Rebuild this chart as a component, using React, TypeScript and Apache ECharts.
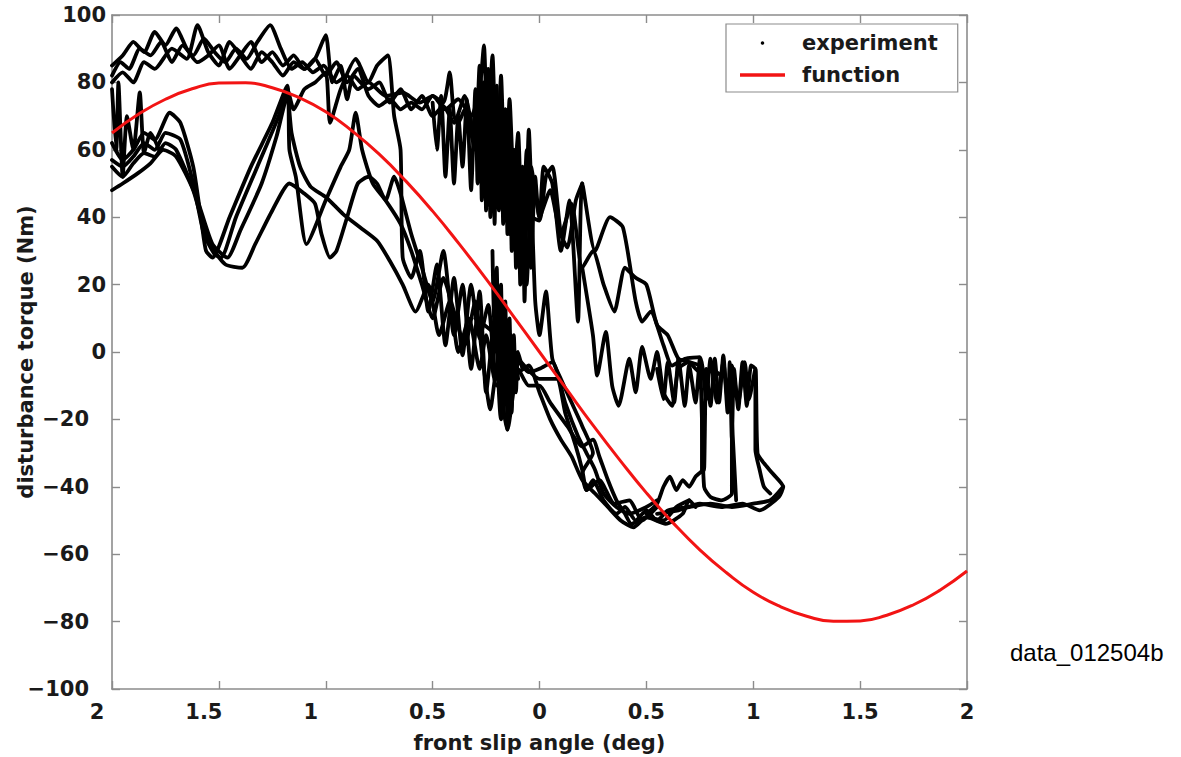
import { useEffect, useRef } from 'react';
import * as echarts from 'echarts';

const xTickLabels = ['2', '1.5', '1', '0.5', '0', '0.5', '1', '1.5', '2'];
const yTickLabels = ['−100', '−80', '−60', '−40', '−20', '0', '20', '40', '60', '80', '100'];

const functionX = [-2, -1.875, -1.75, -1.625, -1.5, -1.375, -1.25, -1.125, -1, -0.875, -0.75, -0.625, -0.5, -0.375, -0.25, -0.125, 0,
  0.125, 0.25, 0.375, 0.5, 0.625, 0.75, 0.875, 1, 1.125, 1.25, 1.375, 1.5, 1.625, 1.75, 1.875, 2];
const functionY = [65, 70.6, 75, 78.1, 79.8, 79.9, 78.4, 75.5, 71.3, 65.5, 58.7, 50.7, 41.8, 32, 21.7, 10.9, 0,
  -10.9, -21.7, -32, -41.8, -50.7, -58.7, -65.5, -71.3, -75.5, -78.4, -79.9, -79.8, -78.1, -75, -70.6, -65];

type P = [number, number];

const trace1: P[] = [[-2, 82], [-1.96, 86], [-1.92, 84], [-1.87, 90], [-1.82, 88], [-1.77, 92], [-1.72, 86], [-1.67, 91], [-1.62, 88], [-1.57, 93], [-1.52, 89], [-1.47, 86], [-1.42, 90], [-1.37, 87], [-1.32, 92], [-1.26, 97], [-1.21, 90], [-1.16, 84], [-1.11, 86], [-1.06, 83], [-1.01, 85], [-0.95, 80], [-0.9, 82], [-0.85, 78], [-0.8, 80], [-0.72, 76], [-0.64, 77], [-0.56, 74], [-0.5, 76], [-0.44, 72], [-0.38, 75], [-0.32, 70], [-0.28, 78], [-0.26, 91], [-0.24, 60], [-0.21, 75], [-0.18, 45], [-0.15, 70], [-0.12, 40], [-0.1, 58], [-0.07, 35], [-0.04, 55], [0.0, 40], [0.02, 55], [0.06, 50], [0.1, 30], [0.14, 45], [0.18, 9], [0.2, 50], [0.26, 30], [0.33, 40], [0.39, 37], [0.45, 15], [0.48, 9], [0.52, 12], [0.58, 2], [0.62, -4], [0.68, -2], [0.75, -1.5], [0.78, -14], [0.8, -2], [0.83, -15], [0.86, -3], [0.88, -14], [0.9, -4], [0.93, -15], [0.96, -3], [0.98, -14], [1.01, -5], [1.02, -30], [1.05, -33], [1.09, -36], [1.14, -40], [1.12, -43], [1.03, -47], [0.95, -45], [0.85, -46], [0.75, -45], [0.65, -47], [0.55, -48]];

const trace2: P[] = [[-2, 85], [-1.95, 88], [-1.9, 92], [-1.85, 89], [-1.8, 95], [-1.75, 91], [-1.7, 96], [-1.65, 90], [-1.6, 86], [-1.55, 88], [-1.5, 91], [-1.45, 84], [-1.4, 88], [-1.35, 92], [-1.3, 86], [-1.25, 89], [-1.2, 85], [-1.15, 88], [-1.1, 84], [-1.05, 87], [-1.0, 94], [-0.97, 80], [-0.93, 85], [-0.9, 75], [-0.87, 82], [-0.8, 78], [-0.75, 80], [-0.7, 74], [-0.65, 78], [-0.6, 72], [-0.55, 76], [-0.5, 70], [-0.45, 73], [-0.4, 68], [-0.35, 76], [-0.3, 62], [-0.28, 85], [-0.25, 55], [-0.22, 88], [-0.2, 50], [-0.18, 82], [-0.16, 45], [-0.14, 75], [-0.12, 50], [-0.1, 65], [-0.08, 30], [-0.06, 60], [-0.04, 25], [-0.02, 52], [0.0, 40], [0.05, 48], [0.1, 35], [0.15, 44], [0.2, 25], [0.25, 30], [0.3, 20], [0.35, 12], [0.4, 25], [0.45, 22], [0.5, 20], [0.55, 8], [0.6, 5], [0.65, -2], [0.7, -3], [0.75, -6], [0.8, -5], [0.85, -7]];

const trace3: P[] = [[-2, 80], [-1.95, 83], [-1.9, 80], [-1.85, 86], [-1.8, 84], [-1.72, 90], [-1.65, 87], [-1.6, 97], [-1.55, 89], [-1.5, 85], [-1.45, 92], [-1.4, 88], [-1.35, 84], [-1.3, 89], [-1.25, 86], [-1.2, 82], [-1.15, 86], [-1.1, 84], [-1.05, 87], [-1.0, 82], [-0.95, 86], [-0.9, 80], [-0.85, 84], [-0.8, 76], [-0.75, 73], [-0.7, 75], [-0.65, 72], [-0.6, 74], [-0.55, 72], [-0.5, 76], [-0.45, 74], [-0.42, 83], [-0.4, 70], [-0.38, 68], [-0.35, 72], [-0.3, 60], [-0.27, 72], [-0.24, 50], [-0.21, 78], [-0.19, 45], [-0.16, 72], [-0.14, 35], [-0.12, 60], [-0.1, 30], [-0.08, 55], [-0.06, 20], [-0.04, 45], [-0.02, 15], [0.0, 5], [0.03, 18], [0.06, -2], [0.1, -8], [0.15, -15], [0.2, -22], [0.25, -30], [0.2, -36], [0.22, -41], [0.28, -38], [0.35, -45], [0.42, -44], [0.48, -50], [0.55, -46]];

const trace4: P[] = [[-2, 62], [-1.95, 57], [-1.9, 60], [-1.85, 65], [-1.8, 63], [-1.73, 71], [-1.68, 68], [-1.62, 55], [-1.58, 38], [-1.56, 30], [-1.53, 28], [-1.45, 40], [-1.35, 55], [-1.25, 68], [-1.18, 79], [-1.17, 60], [-1.14, 52], [-1.09, 32], [-1.0, 45], [-0.93, 55], [-0.89, 60], [-0.86, 71], [-0.83, 60], [-0.78, 50], [-0.72, 45], [-0.65, 38], [-0.6, 30], [-0.55, 20], [-0.5, 10], [-0.45, 22], [-0.4, 12], [-0.35, 2], [-0.3, 15], [-0.27, 0], [-0.23, -17], [-0.2, -5], [-0.15, -23], [-0.1, -5], [-0.05, -10], [0.0, -10], [0.05, -15], [0.13, -22], [0.2, -28], [0.25, -26], [0.28, -31], [0.32, -38], [0.36, -44], [0.4, -48], [0.43, -51], [0.5, -49], [0.59, -51], [0.67, -48], [0.7, -44], [0.73, -46]];

const trace5: P[] = [[-2, 57], [-1.95, 55], [-1.9, 58], [-1.85, 62], [-1.8, 60], [-1.75, 65], [-1.68, 63], [-1.62, 50], [-1.57, 35], [-1.52, 29], [-1.49, 28], [-1.42, 40], [-1.32, 55], [-1.22, 70], [-1.18, 78], [-1.15, 72], [-1.1, 78], [-1.05, 80], [-1.0, 83], [-0.98, 68], [-0.93, 78], [-0.86, 87], [-0.8, 80], [-0.76, 85], [-0.71, 88], [-0.68, 70], [-0.65, 60], [-0.64, 28], [-0.6, 22], [-0.56, 30], [-0.52, 12], [-0.48, 26], [-0.44, 2], [-0.4, 22], [-0.36, -1], [-0.32, 20], [-0.28, 4], [-0.24, 14], [-0.2, -8], [-0.15, -3], [-0.1, -6], [-0.05, -4], [0.0, -12], [0.05, -20], [0.1, -26], [0.15, -31], [0.2, -38], [0.26, -42], [0.32, -46], [0.38, -50], [0.44, -52], [0.5, -49], [0.58, -50], [0.64, -46], [0.7, -44]];

const trace6: P[] = [[-2, 55], [-1.95, 52], [-1.9, 56], [-1.85, 59], [-1.8, 58], [-1.75, 62], [-1.7, 60], [-1.6, 45], [-1.53, 32], [-1.46, 28], [-1.4, 36], [-1.3, 50], [-1.23, 64], [-1.18, 76], [-1.16, 65], [-1.12, 55], [-1.07, 49], [-1.0, 46], [-0.92, 41], [-0.84, 37], [-0.76, 33], [-0.7, 27], [-0.64, 20], [-0.58, 12], [-0.52, 20], [-0.47, 5], [-0.42, 15], [-0.38, 0], [-0.33, 10], [-0.28, -5], [-0.25, 5], [-0.2, -10], [-0.15, -5], [-0.1, -3], [-0.05, -6], [0.0, -5], [0.06, -3], [0.12, -15], [0.18, -25], [0.22, -30], [0.26, -35], [0.3, -42], [0.36, -46], [0.42, -48], [0.5, -46], [0.55, -44]];

const trace7: P[] = [[-2, 48], [-1.95, 50], [-1.88, 53], [-1.82, 56], [-1.76, 60], [-1.7, 58], [-1.62, 48], [-1.55, 33], [-1.47, 26], [-1.39, 25], [-1.33, 32], [-1.25, 42], [-1.17, 50], [-1.1, 47], [-1.05, 44], [-1.02, 35], [-0.98, 28], [-0.95, 30], [-0.9, 40], [-0.85, 50], [-0.8, 52], [-0.76, 50], [-0.72, 45], [-0.68, 52], [-0.65, 47], [-0.6, 35], [-0.55, 25], [-0.5, 15], [-0.45, 30], [-0.4, 5], [-0.36, 20], [-0.32, -5], [-0.28, 18], [-0.25, -12], [-0.21, 10], [-0.18, -20], [-0.13, 5], [-0.1, -8]];

const trace8: P[] = [[-2, 78], [-1.98, 60], [-1.97, 80], [-1.95, 52], [-1.93, 70], [-1.9, 60], [-1.87, 77], [-1.85, 59], [-1.82, 65], [-1.78, 60]];

const traceB: P[] = [[0.2, 25], [0.25, 5], [0.27, -7], [0.31, 6], [0.34, -10], [0.37, -16], [0.42, -2], [0.45, -12], [0.48, 1.5], [0.52, -8], [0.55, 0], [0.58, -12], [0.62, -16], [0.65, -5], [0.7, -3], [0.75, -4]];

const traceD: P[] = [[-0.5, 74], [-0.48, 60], [-0.46, 76], [-0.44, 52], [-0.42, 72], [-0.4, 50], [-0.38, 70], [-0.36, 55], [-0.34, 75], [-0.32, 48], [-0.3, 78], [-0.29, 50], [-0.28, 82], [-0.27, 45], [-0.26, 80], [-0.25, 42], [-0.24, 84], [-0.23, 40], [-0.22, 80], [-0.21, 38], [-0.2, 79], [-0.19, 42], [-0.18, 76], [-0.17, 38], [-0.16, 72], [-0.15, 35], [-0.14, 70], [-0.13, 30], [-0.12, 60], [-0.11, 25], [-0.1, 55], [-0.09, 20], [-0.08, 50], [-0.07, 15], [-0.06, 45], [-0.05, 66], [-0.03, 40], [0.0, 39], [0.03, 52], [0.06, 55], [0.1, 35], [0.13, 31], [0.17, 45], [0.2, 50]];

const traceE: P[] = [[-0.22, 30], [-0.21, 0], [-0.2, 25], [-0.19, -10], [-0.18, 20], [-0.17, -15], [-0.16, 15], [-0.15, -23], [-0.14, 10], [-0.13, -18], [-0.12, 5], [-0.11, -12], [-0.1, 0], [-0.08, -5]];

const traceF: P[] = [[-0.3, 10], [-0.2, 5], [-0.1, -2], [0.0, -8], [0.08, -8], [0.12, -18], [0.17, -28], [0.2, -35], [0.22, -41], [0.25, -38], [0.3, -44], [0.36, -48], [0.4, -46], [0.45, -50], [0.5, -47], [0.55, -50], [0.6, -47], [0.7, -46], [0.8, -45], [0.9, -46], [1.0, -45], [1.08, -44], [1.14, -40]];

const traceG: P[] = [[0.55, -5], [0.58, -14], [0.6, -3], [0.63, -15], [0.65, -2], [0.68, -16], [0.7, -4], [0.73, -15], [0.75, -2], [0.76, -20], [0.77, -35], [0.78, -5], [0.8, -16], [0.82, -2], [0.84, -15], [0.86, -1], [0.88, -18], [0.89, -3], [0.9, -26], [0.91, -5], [0.93, -17], [0.95, -3], [0.97, -16], [0.99, -4], [1.01, -5], [1.01, -29], [1.03, -35], [1.05, -40], [1.08, -42]];

const traceH: P[] = [[0.5, -48], [0.55, -45], [0.58, -40], [0.61, -37], [0.64, -41], [0.67, -38], [0.7, -40], [0.73, -37], [0.76, -35], [0.76, -15], [0.77, -40], [0.8, -43], [0.85, -44], [0.9, -42], [0.9, -20], [0.92, -44]];

const experimentTraces = [trace1, trace2, trace3, trace4, trace5, trace6, trace7, trace8, traceB, traceD, traceE, traceF, traceG, traceH];

const BOLD = 'DejaVu Sans';
const AXIS_GREY = '#8c8c8c';

export default function App() {
  const ref = useRef<HTMLDivElement>(null);
  useEffect(() => {
    const chart = echarts.init(ref.current!, null, { renderer: 'svg' });
    const labelFont = { fontFamily: BOLD, fontWeight: 'bold' as const, fontSize: 21, color: '#1a1a1a' };
    const expSeries = experimentTraces.map((t) => ({
      name: 'experiment',
      type: 'line',
      data: t,
      showSymbol: false,
      symbol: 'none',
      smooth: 0.2,
      color: '#000',
      lineStyle: { color: '#000', width: 3.8, join: 'round', cap: 'round' },
      xAxisIndex: 0,
      yAxisIndex: 0,
      silent: true,
      z: 2,
    }));
    const boxAxisCommon = {
      axisLine: { show: true, onZero: false, lineStyle: { color: AXIS_GREY, width: 1.6 } },
      axisTick: { show: true, inside: true, length: 8, lineStyle: { color: AXIS_GREY, width: 1.4 } },
      splitLine: { show: false },
      nameMoveOverlap: false,
    };
    chart.setOption({
      animation: false,
      backgroundColor: '#fff',
      grid: { left: 112, right: 214, top: 15, bottom: 68, containLabel: false, outerBoundsMode: 'none' },
      legend: {
        show: true,
        orient: 'vertical',
        left: 726,
        top: 24,
        padding: [8, 20, 6, 14],
        itemGap: 10,
        itemWidth: 45,
        itemHeight: 3.5,
        backgroundColor: '#fff',
        borderColor: '#8c8c8c',
        borderWidth: 1.2,
        borderRadius: 0,
        selectedMode: false,
        textStyle: { ...labelFont, lineHeight: 22, padding: [0, 0, 0, 12] },
        data: [
          { name: 'experiment', icon: 'circle' },
          { name: 'function', icon: 'rect' },
        ],
      },
      xAxis: [
        {
          type: 'value',
          position: 'bottom',
          min: -2,
          max: 2,
          interval: 0.5,
          ...boxAxisCommon,
          name: 'front slip angle (deg)',
          nameLocation: 'middle',
          nameGap: 43,
          nameTextStyle: { ...labelFont, fontSize: 21 },
          axisLabel: {
            show: true,
            margin: 12,
            ...labelFont,
            formatter: (v: number) => {
              const idx = Math.round((v + 2) / 0.5);
              const s = xTickLabels[idx] ?? '';
              if (v < -0.75) return `{n|${s}}`;
              if (v < 0) return `{m|${s}}`;
              return `{c|${s}}`;
            },
            rich: {
              n: { ...labelFont, padding: [0, 30, 0, 0] },
              m: { ...labelFont, padding: [0, 10, 0, 0] },
              c: { ...labelFont },
            },
          },
        },
        {
          type: 'value',
          position: 'top',
          min: -2,
          max: 2,
          interval: 0.5,
          ...boxAxisCommon,
          axisLabel: { show: false },
        },
      ],
      yAxis: [
        {
          type: 'value',
          position: 'left',
          min: -100,
          max: 100,
          interval: 20,
          ...boxAxisCommon,
          name: 'disturbance torque (Nm)',
          nameLocation: 'middle',
          nameGap: 76,
          nameTextStyle: { ...labelFont, fontSize: 21 },
          axisLabel: {
            show: true,
            margin: 6,
            ...labelFont,
            formatter: (v: number) => {
              const idx = Math.round((v + 100) / 20);
              const s = yTickLabels[idx] ?? '';
              return v < 0 ? `{n|${s}}` : `{c|${s}}`;
            },
            rich: {
              n: { ...labelFont, padding: [0, 17, 0, 0] },
              c: { ...labelFont },
            },
          },
        },
        {
          type: 'value',
          position: 'right',
          min: -100,
          max: 100,
          interval: 20,
          ...boxAxisCommon,
          axisLabel: { show: false },
        },
      ],
      graphic: [
        {
          type: 'text',
          left: 1010,
          top: 640,
          style: {
            text: 'data_012504b',
            font: '24px "Liberation Sans", Arial, sans-serif',
            fill: '#000',
          },
        },
      ],
      series: [
        ...expSeries,
        {
          name: 'function',
          type: 'line',
          data: functionX.map((x, i) => [x, functionY[i]]),
          smooth: 0.5,
          showSymbol: false,
          symbol: 'none',
          color: '#f21414',
          lineStyle: { color: '#f21414', width: 3 },
          silent: true,
          z: 3,
        },
      ],
    });
    return () => chart.dispose();
  }, []);
  return (
    <div
      ref={ref}
      style={{ position: 'fixed', left: 0, top: 0, width: 1181, height: 757, background: '#fff' }}
    />
  );
}
